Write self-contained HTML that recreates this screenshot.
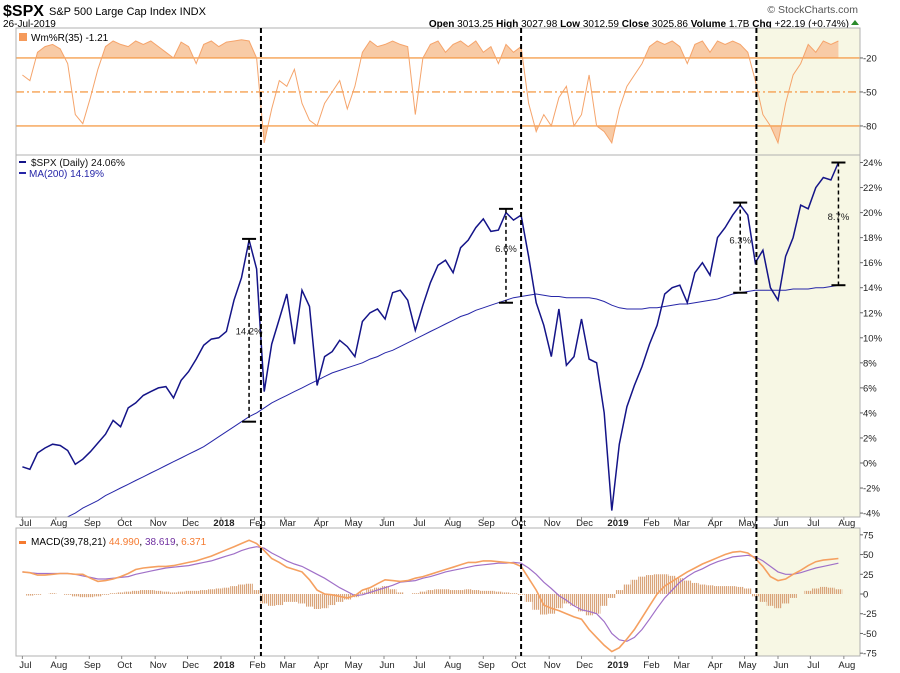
<!DOCTYPE html>
<html><head><meta charset="utf-8"><style>
html,body{margin:0;padding:0;background:#fff;}
svg{display:block;font-family:"Liberation Sans",sans-serif;}
</style></head><body>
<svg id="c" width="900" height="673" viewBox="0 0 900 673" xmlns="http://www.w3.org/2000/svg">
<defs>
<pattern id="stripes" width="2" height="4" patternUnits="userSpaceOnUse"><rect x="0" y="0" width="1.2" height="4" fill="#d9a47a"/></pattern>
</defs>
<g>
<text x="3" y="16" font-size="16" font-weight="bold">$SPX</text>
<text x="49" y="15" font-size="11">S&amp;P 500 Large Cap Index INDX</text>
<text x="3" y="27" font-size="10">26-Jul-2019</text>
<text x="849" y="27" font-size="10" text-anchor="end"><tspan font-weight="bold">Open</tspan> 3013.25 <tspan font-weight="bold">High</tspan> 3027.98 <tspan font-weight="bold">Low</tspan> 3012.59 <tspan font-weight="bold">Close</tspan> 3025.86 <tspan font-weight="bold">Volume</tspan> 1.7B <tspan font-weight="bold">Chg</tspan> +22.19 (+0.74%)</text>
<polygon points="851,25 859,25 855,20" fill="#2a8a2a"/>
<text x="858" y="13" font-size="10.5" fill="#555" text-anchor="end">© StockCharts.com</text>
</g>
<g id="layer"></g>
</svg>
<script>
// ---- data (weekly samples, week 0 = 2017-06-30) ----
const spx = [-0.3,-0.5,0.8,1.2,1.5,1.4,1.0,-0.1,0.3,0.9,1.6,2.3,3.4,2.9,4.4,4.8,5.4,5.7,6.0,6.1,5.2,6.6,7.3,8.3,9.4,9.9,10.0,10.5,13.0,14.8,17.8,15.5,5.7,9.5,11.5,13.5,9.5,13.8,12.5,6.2,8.5,8.9,9.8,9.3,8.5,11.3,12.0,12.3,11.5,13.6,13.8,13.0,10.6,12.6,14.4,15.8,16.2,15.2,17.2,17.8,18.8,19.5,18.5,18.6,20.0,19.4,19.8,16.5,12.8,11.0,8.5,12.3,7.8,8.5,11.5,8.3,8.0,4.0,-3.8,1.5,4.5,6.2,7.7,9.5,11.0,13.5,14.0,14.2,12.8,15.2,16.0,15.0,18.0,18.8,19.8,20.6,19.8,16.0,17.0,14.0,13.0,16.5,18.0,20.6,20.3,22.0,22.8,22.6,24.0];
const ma200 = [-6.2,-5.9,-5.6,-5.2,-4.9,-4.6,-4.3,-4.0,-3.6,-3.3,-3.0,-2.6,-2.3,-2.0,-1.7,-1.4,-1.1,-0.8,-0.5,-0.2,0.1,0.4,0.7,1.0,1.3,1.7,2.1,2.5,2.9,3.3,3.7,4.0,4.4,4.8,5.1,5.4,5.7,6.0,6.3,6.6,6.9,7.2,7.4,7.6,7.8,8.0,8.3,8.5,8.8,9.0,9.3,9.6,9.9,10.2,10.5,10.8,11.1,11.4,11.7,11.9,12.2,12.4,12.6,12.8,13.0,13.2,13.3,13.4,13.5,13.4,13.3,13.3,13.2,13.2,13.2,13.2,13.1,12.9,12.6,12.4,12.3,12.3,12.3,12.4,12.4,12.5,12.6,12.7,12.7,12.8,12.9,13.0,13.1,13.3,13.5,13.6,13.7,13.8,13.8,13.8,13.8,13.8,13.9,13.9,13.9,14.0,14.0,14.1,14.2];
const willR = [-35,-40,-15,-10,-8,-12,-25,-70,-78,-55,-30,-10,-5,-8,-10,-5,-8,-5,-10,-15,-20,-6,-10,-25,-8,-5,-10,-6,-5,-4,-5,-20,-95,-65,-40,-45,-30,-60,-75,-80,-60,-50,-40,-65,-45,-15,-5,-10,-8,-5,-8,-10,-70,-20,-8,-5,-15,-8,-5,-10,-5,-15,-10,-25,-8,-15,-10,-60,-85,-70,-80,-55,-45,-80,-70,-35,-80,-85,-95,-65,-45,-35,-25,-10,-5,-8,-5,-10,-25,-8,-5,-15,-5,-8,-5,-8,-15,-40,-70,-80,-95,-60,-35,-25,-8,-15,-5,-8,-5];
const macd = [28,27,24,24,25,26,26,25,25,20,16,17,19,22,26,31,33,34,35,35,36,38,40,42,45,48,52,56,60,64,68,64,55,45,40,34,31,28,18,5,0,-1,-3,-5,-2,5,8,13,18,17,16,17,20,22,25,28,31,34,37,40,40,42,42,41,40,39,35,20,5,-14,-18,-21,-25,-29,-32,-45,-55,-65,-73,-68,-57,-45,-30,-15,0,10,16,22,28,33,38,42,46,50,53,54,52,45,35,22,17,19,25,30,36,41,43,44,45];
const signal = [28,27,26,26,26,26,26,25,23,21,19,19,20,21,22,25,27,29,31,33,34,35,36,38,40,42,45,48,51,55,58,60,58,52,47,42,38,35,30,25,20,14,8,3,-2,-1,2,5,8,11,15,16,17,20,22,25,28,30,32,34,36,37,38,39,39,40,39,33,25,15,7,-2,-8,-15,-20,-22,-25,-35,-50,-58,-60,-55,-45,-32,-18,-5,5,15,22,28,32,37,41,44,47,48,49,47,42,35,28,25,25,27,30,33,35,37,39];
const hist = [0,-2,-1,0,1,0,-1,-3,-4,-4,-3,-1,1,2,3,4,5,5,4,3,2,3,4,4,5,6,7,8,10,12,13,5,-12,-15,-14,-10,-10,-12,-16,-19,-18,-14,-10,-7,-4,2,6,8,10,6,2,0,1,3,5,6,6,5,5,6,5,4,4,3,2,1,-1,-10,-20,-26,-25,-18,-12,-15,-22,-27,-25,-15,-5,5,12,18,22,24,25,25,23,20,17,14,12,11,10,10,10,9,7,-3,-10,-15,-18,-12,-5,0,4,7,9,8,6];
const months = ["Jul","Aug","Sep","Oct","Nov","Dec","2018","Feb","Mar","Apr","May","Jun","Jul","Aug","Sep","Oct","Nov","Dec","2019","Feb","Mar","Apr","May","Jun","Jul","Aug"];
const monthDays = [-184,-153,-122,-92,-61,-31,0,31,59,90,120,151,181,212,243,273,304,334,365,396,424,455,485,516,546,577];
const pctTicks = [24,22,20,18,16,14,12,10,8,6,4,2,0,-2,-4];
const wrTicks = [-20,-50,-80];
const macdTicks = [75,50,25,0,-25,-50,-75];
const eventDays = [37,278,496];
const ranges = [{wk:30,hi:17.9,lo:3.3,label:"14.2%"},{wk:64,hi:20.3,lo:12.8,label:"6.6%"},{wk:95,hi:20.8,lo:13.6,label:"6.3%"},{wk:108,hi:24.0,lo:14.2,label:"8.7%"}];

// ---- geometry ----
const L=16,R=860;
const P1={t:28,b:155},P2={t:155,b:517},P3={t:528,b:656};
const xDay=d=>221+d*394/365;
const xW=w=>xDay(-184+7*w);
const yPct=v=>463-v*12.52;
const yWR=v=>35.3-v*1.133;
const yM=v=>594-v*0.789;
const NS="http://www.w3.org/2000/svg";
const layer=document.getElementById('layer');
const defs=document.querySelector('defs');
function mk(tag,attrs,parent){const e=document.createElementNS(NS,tag);for(const k in attrs)e.setAttribute(k,attrs[k]);(parent||layer).appendChild(e);return e;}
function poly(vals,fx,fy){return vals.map((v,i)=>fx(i).toFixed(1)+","+fy(v).toFixed(1)).join(" ");}

[[P1,'c1'],[P2,'c2'],[P3,'c3']].forEach(([p,id])=>{const cp=mk('clipPath',{id:id},defs);mk('rect',{x:L,y:p.t,width:R-L,height:p.b-p.t},cp);});

const shadeX=xDay(eventDays[2]);
[P1,P2,P3].forEach(p=>{const r=mk('rect',{x:shadeX,y:p.t,width:R-shadeX,height:p.b-p.t,fill:'#f7f7e4'});

});

// ---- top panel ----
const g1=mk('g',{'clip-path':'url(#c1)'});


const cpA=mk('clipPath',{id:'above'},defs);mk('rect',{x:L,y:P1.t,width:R-L,height:yWR(-20)-P1.t},cpA);
const cpB=mk('clipPath',{id:'below'},defs);mk('rect',{x:L,y:yWR(-80),width:R-L,height:P1.b-yWR(-80)},cpB);
const wpts=poly(willR,xW,yWR);
const fa=mk('polygon',{points:xW(0)+","+yWR(-20)+" "+wpts+" "+xW(willR.length-1)+","+yWR(-20),fill:'#f8cba6','clip-path':'url(#above)'},g1);


const fb=mk('polygon',{points:xW(0)+","+yWR(-80)+" "+wpts+" "+xW(willR.length-1)+","+yWR(-80),fill:'#f8cba6','clip-path':'url(#below)'},g1);


wrTicks.forEach(t=>{const l=mk('line',{x1:L,x2:R,y1:yWR(t),y2:yWR(t),stroke:'#f5a050','stroke-width':1.3,'stroke-dasharray':t==-50?'8,3,2,3':'none'},g1);

});
const wl=mk('polyline',{points:wpts,fill:'none',stroke:'#f5a46b','stroke-width':1},g1);



// ---- main panel ----
const g2=mk('g',{'clip-path':'url(#c2)'});


const ml=mk('polyline',{points:poly(ma200,xW,yPct),fill:'none',stroke:'#2626a8','stroke-width':1},g2);


const sl=mk('polyline',{points:poly(spx,xW,yPct),fill:'none',stroke:'#141488','stroke-width':1.5},g2);


ranges.forEach(r=>{const x=xW(r.wk);const g=mk('g',{});


mk('line',{x1:x,x2:x,y1:yPct(r.hi),y2:yPct(r.lo),stroke:'#000','stroke-width':1.5,'stroke-dasharray':'4,3'},g);
mk('line',{x1:x-7,x2:x+7,y1:yPct(r.hi),y2:yPct(r.hi),stroke:'#000','stroke-width':2},g);
mk('line',{x1:x-7,x2:x+7,y1:yPct(r.lo),y2:yPct(r.lo),stroke:'#000','stroke-width':2},g);
const ym=(yPct(r.hi)+yPct(r.lo))/2-(r.wk==30?0:8);
const t=mk('text',{x:x,y:ym+4,'font-size':9.5,'text-anchor':'middle',fill:'#222'},g);t.textContent=r.label;});

// ---- MACD panel ----
const g3=mk('g',{'clip-path':'url(#c3)'});


hist.forEach((v,i)=>{const y0=yM(0),y1=yM(v);const b=mk('rect',{x:xW(i)-3.8,y:Math.min(y0,y1),width:7.6,height:Math.abs(y1-y0),fill:'url(#stripes)'},g3);

});
const sg=mk('polyline',{points:poly(signal,xW,yM),fill:'none',stroke:'#a070c8','stroke-width':1.2},g3);


const mc=mk('polyline',{points:poly(macd,xW,yM),fill:'none',stroke:'#f5a060','stroke-width':1.6},g3);



[P1,P2,P3].forEach(p=>{const r=mk('rect',{x:L,y:p.t,width:R-L,height:p.b-p.t,fill:'none',stroke:'#b0b0b0','stroke-width':1});

});

function rtext(y,s,name){const t=mk('text',{x:R+3,y:y+3.5,'font-size':9.5,fill:'#222'});t.textContent=s;


mk('line',{x1:R,x2:R+3,y1:y,y2:y,stroke:'#666'});}
pctTicks.forEach(t=>rtext(yPct(t),t+"%",'y-tick-pct'));
wrTicks.forEach(t=>rtext(yWR(t),String(t),'y-tick-wr'));
macdTicks.forEach(t=>rtext(yM(t),String(t),'y-tick-macd'));
[[P2.b,523],[P3.b,665]].forEach(([yb,yl])=>{months.forEach((m,i)=>{const x=xDay(monthDays[i])+3;
const t=mk('text',{x:x,y:yl+3,'font-size':9.5,'text-anchor':'middle',fill:'#222','font-weight':m.length==4?'bold':'normal'});t.textContent=m;


mk('line',{x1:xDay(monthDays[i]),x2:xDay(monthDays[i]),y1:yb,y2:yb+3,stroke:'#888'});});});

eventDays.forEach(d=>{const l=mk('line',{x1:xDay(d),x2:xDay(d),y1:P1.t,y2:P3.b,stroke:'#000','stroke-width':2,'stroke-dasharray':'5,3'});

});

function legend(html,x,y,name){const t=mk('text',{x:x,y:y,'font-size':10});t.innerHTML=html;

}
mk('rect',{x:19,y:33,width:8,height:8,fill:'#f59a5b'});
legend('Wm%R(35) -1.21',31,41,'wr-legend');
mk('rect',{x:19,y:161,width:7,height:2,fill:'#141488'});
legend('<tspan fill="#111">$SPX (Daily) 24.06%</tspan>',31,166,'spx-legend');
mk('rect',{x:19,y:172,width:7,height:2,fill:'#2626a8'});
legend('<tspan fill="#2626a8">MA(200) 14.19%</tspan>',29,177,'ma-legend');
mk('rect',{x:19,y:541,width:7,height:3,fill:'#f57a30'});
legend('MACD(39,78,21) <tspan fill="#f57a30">44.990</tspan>, <tspan fill="#7030a0">38.619</tspan>, <tspan fill="#f57a30">6.371</tspan>',31,545,'macd-legend');
</script>
</body></html>
